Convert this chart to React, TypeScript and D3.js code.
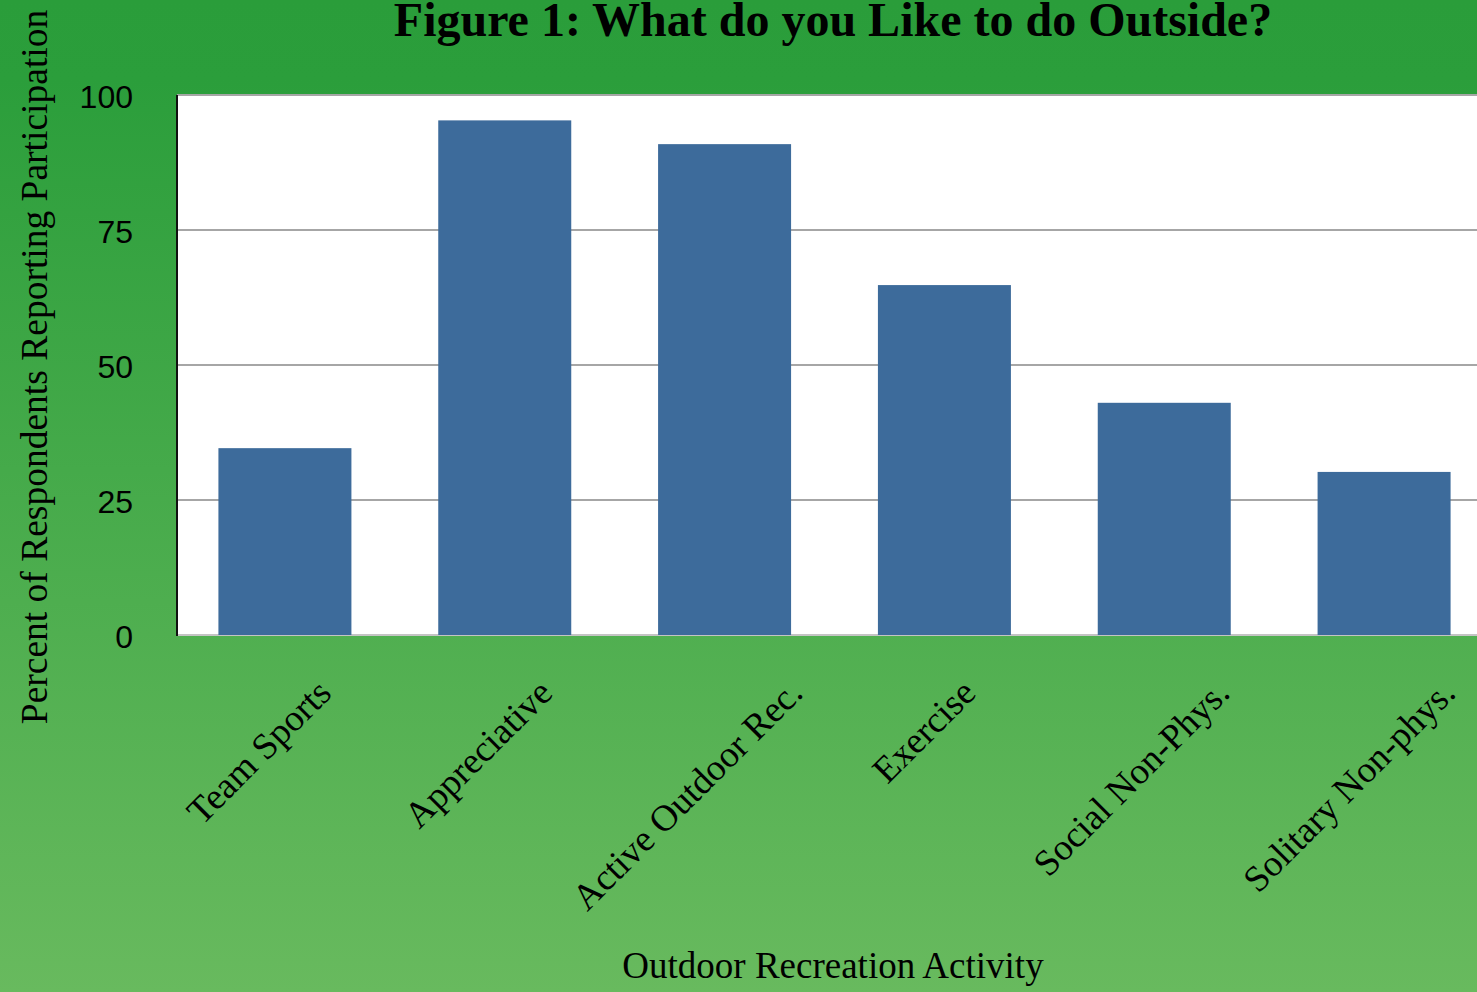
import React, { useEffect, useRef } from "react";
import * as d3 from "d3";

const categories = [
  "Team Sports",
  "Appreciative",
  "Active Outdoor Rec.",
  "Exercise",
  "Social Non-Phys.",
  "Solitary Non-phys.",
];
const values = [34.6, 95.3, 90.9, 64.8, 43.0, 30.2];
const yTicks = [0, 25, 50, 75, 100];

const TITLE = "Figure 1: What do you Like to do Outside?";
const X_TITLE = "Outdoor Recreation Activity";
const Y_TITLE = "Percent of Respondents Reporting Participation";

const W = 1477;
const H = 992;
const SERIF = "'Liberation Serif', 'Times New Roman', Times, serif";
const SANS = "'Liberation Sans', Arial, Helvetica, sans-serif";

export default function App() {
  const ref = useRef<SVGSVGElement | null>(null);

  useEffect(() => {
    const svg = d3.select(ref.current);
    svg.selectAll("*").remove();

    const plotLeft = 177;
    const plotTop = 95;
    const plotBottom = 635;

    const defs = svg.append("defs");
    const grad = defs
      .append("linearGradient")
      .attr("id", "bg")
      .attr("x1", 0)
      .attr("y1", 0)
      .attr("x2", 0)
      .attr("y2", 1);
    grad.append("stop").attr("offset", "0").attr("stop-color", "#2a9d3a");
    grad.append("stop").attr("offset", "0.08").attr("stop-color", "#2b9e3b");
    grad.append("stop").attr("offset", "1").attr("stop-color", "#68ba5e");

    svg.append("rect").attr("x", 0).attr("y", 0).attr("width", W).attr("height", H).attr("fill", "url(#bg)");

    const y = d3.scaleLinear().domain([0, 100]).range([plotBottom, plotTop]);
    const x = d3
      .scaleBand<string>()
      .domain(categories)
      .range([175, 1494])
      .paddingInner(0.395)
      .paddingOuter(0.1975);

    // plot area
    svg
      .append("rect")
      .attr("x", plotLeft)
      .attr("y", plotTop)
      .attr("width", W - plotLeft)
      .attr("height", plotBottom - plotTop)
      .attr("fill", "#ffffff");

    // gridlines
    svg
      .append("g")
      .selectAll("line")
      .data(yTicks)
      .join("line")
      .attr("x1", plotLeft)
      .attr("x2", W)
      .attr("y1", (d) => y(d))
      .attr("y2", (d) => y(d))
      .attr("stroke", (d) => (d === 0 ? "#c4c4c4" : "#a6a6a6"))
      .attr("stroke-width", 2.2);

    // bars
    svg
      .append("g")
      .selectAll("rect")
      .data(values)
      .join("rect")
      .attr("x", (_d, i) => x(categories[i]) as number)
      .attr("y", (d) => y(d))
      .attr("width", x.bandwidth())
      .attr("height", (d) => y(0) - y(d))
      .attr("fill", "#3d6b9b");

    // left axis line
    svg
      .append("line")
      .attr("x1", plotLeft)
      .attr("x2", plotLeft)
      .attr("y1", plotTop)
      .attr("y2", plotBottom + 1)
      .attr("stroke", "#111")
      .attr("stroke-width", 2);

    // y tick labels
    svg
      .append("g")
      .selectAll("text")
      .data(yTicks)
      .join("text")
      .attr("x", 133)
      .attr("y", (d) => y(d) + 2)
      .attr("dy", "0.35em")
      .attr("text-anchor", "end")
      .attr("font-family", SANS)
      .attr("font-size", 32)
      .attr("fill", "#000")
      .text((d) => String(d));

    // x tick labels (rotated)
    const xl = svg.append("g");
    categories.forEach((c) => {
      const t = xl
        .append("text")
        .attr("font-family", SERIF)
        .attr("font-size", 37)
        .attr("fill", "#000")
        .attr("text-anchor", "end")
        .text(c);
      const w = (t.node() as SVGTextElement).getComputedTextLength();
      const cx = (x(c) as number) + x.bandwidth() / 2;
      const ex = cx + 0.26 * w;
      t.attr("transform", `translate(${ex},695) rotate(-45)`);
    });

    // title
    svg
      .append("text")
      .attr("x", 833)
      .attr("y", 36)
      .attr("text-anchor", "middle")
      .attr("font-family", SERIF)
      .attr("font-weight", "bold")
      .attr("font-size", 48)
      .attr("fill", "#000")
      .text(TITLE);

    // x title
    svg
      .append("text")
      .attr("x", 833)
      .attr("y", 978)
      .attr("text-anchor", "middle")
      .attr("font-family", SERIF)
      .attr("font-size", 37)
      .attr("fill", "#000")
      .text(X_TITLE);

    // y title
    svg
      .append("text")
      .attr("transform", "translate(47,367) rotate(-90)")
      .attr("text-anchor", "middle")
      .attr("font-family", SERIF)
      .attr("font-size", 37.5)
      .attr("fill", "#000")
      .text(Y_TITLE);
  }, []);

  return (
    <svg
      ref={ref}
      width={W}
      height={H}
      style={{ position: "absolute", left: 0, top: 0, display: "block" }}
    />
  );
}
